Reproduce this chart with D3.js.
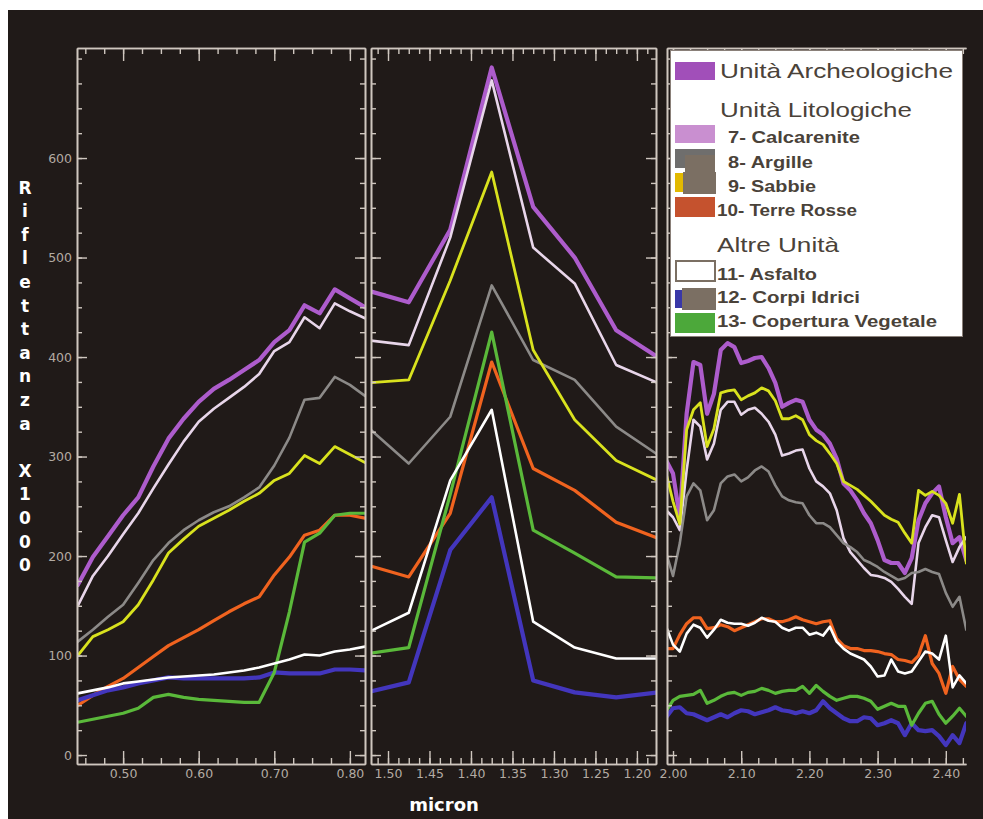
<!DOCTYPE html>
<html>
<head>
<meta charset="utf-8">
<script src="https://cdn.jsdelivr.net/npm/d3@7"></script>
<style>
  body { margin: 0; background: #ffffff; }
  svg { display: block; }
</style>
</head>
<body>
<svg id="chart" width="983" height="819"></svg>
<script>
// ---- Wavelengths (micron) of the three spectral windows ----
const visBands = [0.44, 0.46, 0.48, 0.50, 0.52, 0.54, 0.56, 0.58, 0.60, 0.62,
                  0.64, 0.66, 0.68, 0.70, 0.72, 0.74, 0.76, 0.78, 0.80, 0.82];
const nirBands = [1.525, 1.475, 1.425, 1.375, 1.325, 1.275, 1.225, 1.175];
const swirBands = [1.99, 2.00, 2.01, 2.02, 2.03, 2.04, 2.05, 2.06, 2.07, 2.08, 2.09,
                   2.10, 2.11, 2.12, 2.13, 2.14, 2.15, 2.16, 2.17, 2.18, 2.19,
                   2.20, 2.21, 2.22, 2.23, 2.24, 2.25, 2.26, 2.27, 2.28, 2.29,
                   2.30, 2.31, 2.32, 2.33, 2.34, 2.35, 2.36, 2.37, 2.38, 2.39,
                   2.40, 2.41, 2.42, 2.43];

// ---- Reflectance x1000 per unit ----
const archeoVis  = [171,199,220,241,259,290,318,338,355,368,377,387,397,415,427,452,444,468,459,450];
const archeoNir  = [467,455,528,691,551,500,427,400];
const archeoSwir = [296,283,239,343,395,392,343,363,407,414,410,394,396,399,400,389,374,350,354,357,355,
                    337,327,322,313,298,273,266,256,243,233,216,196,193,193,183,198,236,253,263,270,239,213,219,196];

const calcVis  = [150,180,200,222,243,268,292,315,335,348,359,370,383,406,415,440,429,454,446,439];
const calcNir  = [417,412,520,678,510,474,392,374];
const calcSwir = [246,239,226,286,337,330,297,313,347,355,355,342,347,349,343,335,322,301,303,306,307,
                  288,275,270,263,246,218,204,196,188,181,180,178,174,167,159,152,213,229,241,239,216,194,209,219];

const argilleVis  = [114,126,139,151,173,196,213,226,236,244,250,259,269,291,319,357,359,380,372,361];
const argilleNir  = [330,293,340,472,397,377,330,302];
const argilleSwir = [203,180,213,260,273,266,236,246,273,280,282,275,279,286,290,285,271,260,256,254,253,
                     241,233,233,229,221,213,209,204,196,193,189,184,180,176,178,183,184,187,184,182,163,149,159,126];

const sabbieVis  = [100,119,126,134,151,176,203,217,230,238,246,255,263,276,283,301,293,310,302,294];
const sabbieNir  = [374,377,477,586,407,337,296,276];
const sabbieSwir = [283,255,232,327,347,354,310,328,364,366,367,357,361,364,369,366,356,338,338,341,337,
                    322,316,312,303,293,275,271,267,261,255,248,241,237,234,223,213,266,261,265,261,253,233,262,193];

const terreVis  = [50,60,69,77,88,99,110,118,126,135,144,152,159,181,199,221,226,241,241,238];
const terreNir  = [191,179,243,395,288,266,234,218];
const terreSwir = [107,107,121,132,138,138,127,128,131,129,125,128,131,134,137,137,134,134,136,139,136,
                   134,132,134,135,117,110,107,107,105,105,104,102,101,96,95,93,100,120,92,82,62,89,76,69];

const asfaltoVis  = [62,65,68,72,74,76,78,79,80,81,83,85,88,92,96,101,100,104,106,109];
const asfaltoNir  = [123,143,276,347,134,108,97,97];
const asfaltoSwir = [129,111,104,122,131,128,118,126,136,133,132,132,130,133,138,135,134,128,125,128,128,
                     121,123,120,129,114,107,102,99,96,89,79,80,96,84,82,84,94,104,102,96,120,68,80,72];

const acquaVis  = [55,60,65,68,72,75,78,77,77,77,77,77,78,83,82,82,82,86,86,85];
const acquaNir  = [63,73,206,259,75,63,58,63];
const acquaSwir = [38,47,48,42,41,38,35,38,41,38,42,45,44,41,43,45,48,45,44,42,44,
                   42,45,54,47,42,37,34,34,38,37,30,32,35,32,20,32,25,24,25,19,10,20,12,32];

const vegVis  = [33,36,39,42,47,58,61,58,56,55,54,53,53,83,144,214,223,241,243,243];
const vegNir  = [102,108,262,425,226,203,179,178];
const vegSwir = [44,55,59,60,61,65,52,55,59,62,63,60,63,64,67,65,62,64,65,65,69,
                 62,70,64,59,55,57,59,59,57,54,46,49,52,49,49,30,42,52,54,41,32,39,47,39];

// ---- Tick values ----
const yMajorTicks = [0, 100, 200, 300, 400, 500, 600];
const visMajorTicks = [0.50, 0.60, 0.70, 0.80];
const nirMajorTicks = [1.50, 1.45, 1.40, 1.35, 1.30, 1.25, 1.20];
const swirMajorTicks = [2.00, 2.10, 2.20, 2.30, 2.40];

// ---- Curves, in drawing order ----
const curves = [
  { vis: terreVis,   nir: terreNir,   swir: terreSwir,   color: "#f0631f", width: 3.2 },
  { vis: archeoVis,  nir: archeoNir,  swir: archeoSwir,  color: "#ad5ccc", width: 4.2 },
  { vis: calcVis,    nir: calcNir,    swir: calcSwir,    color: "#e8d6ea", width: 2.6 },
  { vis: argilleVis, nir: argilleNir, swir: argilleSwir, color: "#8c8a88", width: 2.6 },
  { vis: sabbieVis,  nir: sabbieNir,  swir: sabbieSwir,  color: "#d9e21e", width: 2.8 },
  { vis: acquaVis,   nir: acquaNir,   swir: acquaSwir,   color: "#4336bd", width: 4.2 },
  { vis: vegVis,     nir: vegNir,     swir: vegSwir,     color: "#5ab93a", width: 3.2 },
  { vis: asfaltoVis, nir: asfaltoNir, swir: asfaltoSwir, color: "#ffffff", width: 2.6 }
];

const svg = d3.select("#chart");
const axisColor = "#cfc7bf";
const labelColor = "#b3aba3";

// dark plate
svg.append("rect").attr("x", 8).attr("y", 10).attr("width", 975).attr("height", 809)
  .attr("fill", "#201a18");

const plotTop = 48, plotBottom = 764;
const y = d3.scaleLinear().domain([-9, 710.6]).range([plotBottom, plotTop]);
const yMinorTicks = d3.range(0, 701, 25);

const panels = [
  { key: "vis",  bands: visBands,  x: d3.scaleLinear().domain([0.439, 0.820]).range([77, 365]),
    majors: visMajorTicks, minors: d3.range(0.45, 0.8001, 0.025), yLabels: true, right: true },
  { key: "nir",  bands: nirBands,  x: d3.scaleLinear().domain([1.5205, 1.177]).range([371, 656]),
    majors: nirMajorTicks, minors: d3.range(1.1875, 1.5126, 0.0125), yLabels: false, right: true },
  { key: "swir", bands: swirBands, x: d3.scaleLinear().domain([1.9912, 2.4296]).range([667, 966]),
    majors: swirMajorTicks, minors: d3.range(2.0, 2.4251, 0.025), yLabels: false, right: false }
];

const fmt = d3.format(".2f");

function styleAxis(g) {
  g.select(".domain").attr("stroke", axisColor).attr("stroke-width", 1.6);
  g.selectAll(".tick line").attr("stroke", axisColor).attr("stroke-width", 1.4);
  g.selectAll(".tick text").attr("fill", labelColor)
    .attr("font-family", "DejaVu Sans, sans-serif").attr("font-size", 12.5);
}

panels.forEach((p, i) => {
  const [x0, x1] = p.x.range();
  const g = svg.append("g").attr("class", "panel-" + p.key);

  const clipId = "clip-" + p.key;
  svg.append("clipPath").attr("id", clipId).append("rect")
    .attr("x", x0).attr("y", plotTop).attr("width", x1 - x0).attr("height", plotBottom - plotTop);

  // spectra
  const line = d3.line().x((d, j) => p.x(p.bands[j])).y(d => y(d));
  const lines = g.append("g").attr("clip-path", `url(#${clipId})`);
  curves.forEach(c => {
    lines.append("path").datum(c[p.key])
      .attr("d", line)
      .attr("fill", "none")
      .attr("stroke", c.color)
      .attr("stroke-width", c.width)
      .attr("stroke-linejoin", "round")
      .attr("stroke-linecap", "round");
  });

  // bottom axis
  g.append("g").attr("transform", `translate(0,${plotBottom})`)
    .call(d3.axisBottom(p.x).tickValues(p.minors).tickSizeInner(-6).tickSizeOuter(0).tickFormat(""))
    .call(styleAxis);
  g.append("g").attr("transform", `translate(0,${plotBottom})`)
    .call(d3.axisBottom(p.x).tickValues(p.majors).tickSizeInner(-13).tickSizeOuter(0)
      .tickPadding(5).tickFormat(fmt))
    .call(styleAxis);

  // top axis
  g.append("g").attr("transform", `translate(0,${plotTop})`)
    .call(d3.axisTop(p.x).tickValues(p.minors).tickSizeInner(-6).tickSizeOuter(0).tickFormat(""))
    .call(styleAxis);
  g.append("g").attr("transform", `translate(0,${plotTop})`)
    .call(d3.axisTop(p.x).tickValues(p.majors).tickSizeInner(-13).tickSizeOuter(0).tickFormat(""))
    .call(styleAxis);

  // left axis
  g.append("g").attr("transform", `translate(${x0},0)`)
    .call(d3.axisLeft(y).tickValues(yMinorTicks).tickSizeInner(-5).tickSizeOuter(0).tickFormat(""))
    .call(styleAxis);
  g.append("g").attr("transform", `translate(${x0},0)`)
    .call(d3.axisLeft(y).tickValues(yMajorTicks).tickSizeInner(-10).tickSizeOuter(0).tickPadding(5)
      .tickFormat(p.yLabels ? d3.format("d") : ""))
    .call(styleAxis);

  // right axis
  if (p.right) {
    g.append("g").attr("transform", `translate(${x1},0)`)
      .call(d3.axisRight(y).tickValues(yMinorTicks).tickSizeInner(-5).tickSizeOuter(0).tickFormat(""))
      .call(styleAxis);
    g.append("g").attr("transform", `translate(${x1},0)`)
      .call(d3.axisRight(y).tickValues(yMajorTicks).tickSizeInner(-10).tickSizeOuter(0).tickFormat(""))
      .call(styleAxis);
  }
});

// ---- Axis titles ----
const yTitle = "Riflettanza X1000";
const yTitleG = svg.append("g").attr("fill", "#ffffff")
  .attr("font-family", "DejaVu Sans, sans-serif").attr("font-weight", "bold").attr("font-size", 17)
  .attr("text-anchor", "middle");
Array.from(yTitle).forEach((ch, i) => {
  if (ch === " ") return;
  yTitleG.append("text").attr("x", 25).attr("y", 193.5 + i * 23.6).text(ch);
});

svg.append("text").attr("x", 444).attr("y", 811)
  .attr("text-anchor", "middle").attr("fill", "#ffffff")
  .attr("font-family", "DejaVu Sans, sans-serif").attr("font-weight", "bold").attr("font-size", 18)
  .text("micron");

// ---- Legend ----
const legendTextColor = "#4a4239";
const legend = svg.append("g").attr("class", "legend");
legend.append("rect").attr("x", 670.5).attr("y", 50.5).attr("width", 292).attr("height", 286)
  .attr("fill", "#ffffff").attr("stroke", "#8a8079").attr("stroke-width", 1);

const swatches = [
  { x: 675, y: 62,  w: 40, h: 18, fill: "#a14fb9" },
  { x: 675, y: 125, w: 40, h: 18, fill: "#c98fd0" },
  { x: 675, y: 149, w: 40, h: 19, fill: "#6f6e6d" },
  { x: 685, y: 155, w: 30, h: 17, fill: "#7b6f63" },
  { x: 675, y: 173, w: 9,  h: 19, fill: "#e2b900" },
  { x: 683, y: 172, w: 33, h: 22, fill: "#7b6f63" },
  { x: 675, y: 197, w: 40, h: 20, fill: "#c5522e" },
  { x: 675, y: 290, w: 8,  h: 18, fill: "#3a38a8" },
  { x: 682, y: 288, w: 34, h: 22, fill: "#7b6f63" },
  { x: 675, y: 313, w: 40, h: 20, fill: "#4ca83a" }
];
swatches.forEach(s => {
  legend.append("rect").attr("x", s.x).attr("y", s.y).attr("width", s.w).attr("height", s.h)
    .attr("fill", s.fill);
});
legend.append("rect").attr("x", 676).attr("y", 261).attr("width", 39).attr("height", 20)
  .attr("fill", "#ffffff").attr("stroke", "#7b6f63").attr("stroke-width", 2);

const legendTexts = [
  { t: "Unità Archeologiche", x: 720, y: 78,  len: 233, size: 21, bold: false },
  { t: "Unità Litologiche",   x: 720, y: 117, len: 192, size: 21, bold: false },
  { t: "7- Calcarenite",      x: 728, y: 143, len: 132, size: 16, bold: true },
  { t: "8- Argille",          x: 728, y: 168, len: 85,  size: 16, bold: true },
  { t: "9- Sabbie",           x: 728, y: 192, len: 88,  size: 16, bold: true },
  { t: "10- Terre Rosse",     x: 717, y: 216, len: 140, size: 16, bold: true },
  { t: "Altre Unità",         x: 717, y: 252, len: 122, size: 21, bold: false },
  { t: "11- Asfalto",         x: 717, y: 280, len: 100, size: 16, bold: true },
  { t: "12- Corpi Idrici",    x: 717, y: 303, len: 143, size: 16, bold: true },
  { t: "13- Copertura Vegetale", x: 717, y: 327, len: 220, size: 16, bold: true }
];
legendTexts.forEach(d => {
  legend.append("text").attr("x", d.x).attr("y", d.y)
    .attr("fill", legendTextColor)
    .attr("font-family", "Liberation Sans, Arial, sans-serif")
    .attr("font-size", d.size)
    .attr("font-weight", d.bold ? "bold" : "normal")
    .attr("textLength", d.len).attr("lengthAdjust", "spacingAndGlyphs")
    .text(d.t);
});
</script>
</body>
</html>
